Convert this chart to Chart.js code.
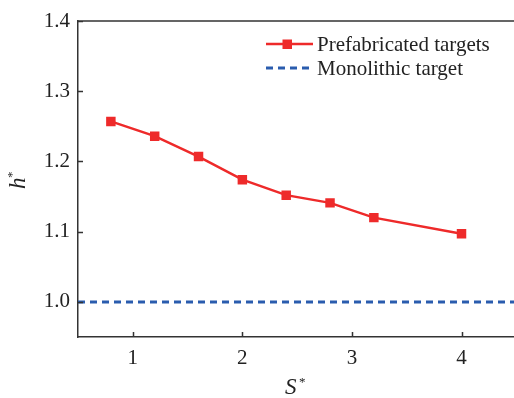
<!DOCTYPE html>
<html>
<head>
<meta charset="utf-8">
<script src="https://cdn.jsdelivr.net/npm/chart.js@4"></script>
<style>
  html, body { margin: 0; padding: 0; background: #fff; overflow: hidden; }
  canvas { display: block; }
</style>
</head>
<body>
<canvas id="chart" width="523" height="398"></canvas>
<script>
// S* values and the normalised h* for the prefabricated targets
const sValues = [0.8, 1.2, 1.6, 2.0, 2.4, 2.8, 3.2, 4.0];
const prefabricated = [1.257, 1.236, 1.207, 1.174, 1.152, 1.141, 1.120, 1.097];
// monolithic target reference level
const monolithicLevel = 1.0;
const monolithicSpan = [0.5, 4.5];

const xTickValues = [1, 2, 3, 4];
const yTickValues = [1.0, 1.1, 1.2, 1.3, 1.4];

const seriesNames = ['Prefabricated targets', 'Monolithic target'];
const red = '#ee2a2a';
const blue = '#2a5cae';
const axisColor = '#333';
const textColor = '#222';
const serif = '"Liberation Serif", "Times New Roman", serif';

// inward tick marks, top border, axis titles and the legend
const decorations = {
  id: 'decorations',
  afterDraw(chart) {
    const ctx = chart.ctx;
    const area = chart.chartArea;
    const x = chart.scales.x;
    const y = chart.scales.y;
    ctx.save();
    ctx.strokeStyle = axisColor;
    ctx.lineWidth = 1.5;
    ctx.beginPath();
    ctx.moveTo(area.left, area.top);
    ctx.lineTo(area.right, area.top);
    xTickValues.forEach(v => {
      const px = Math.round(x.getPixelForValue(v)) + 0.5;
      ctx.moveTo(px, area.bottom);
      ctx.lineTo(px, area.bottom - 5);
    });
    yTickValues.forEach(v => {
      const py = Math.round(y.getPixelForValue(v)) + 0.5;
      ctx.moveTo(area.left, py);
      ctx.lineTo(area.left + 5, py);
    });
    ctx.stroke();

    // axis titles
    ctx.fillStyle = textColor;
    ctx.textBaseline = 'alphabetic';
    ctx.textAlign = 'left';
    ctx.font = 'italic 23px ' + serif;
    ctx.fillText('S', 285, 394);
    ctx.font = '13px ' + serif;
    ctx.fillText('*', 299, 386);

    ctx.save();
    ctx.translate(25, 189);
    ctx.rotate(-Math.PI / 2);
    ctx.font = 'italic 23px ' + serif;
    ctx.fillText('h', 0, 0);
    ctx.font = '13px ' + serif;
    ctx.fillText('*', 11, -9);
    ctx.restore();

    // legend
    ctx.font = '21px ' + serif;
    ctx.textBaseline = 'middle';
    ctx.lineWidth = 2.5;
    ctx.strokeStyle = red;
    ctx.beginPath();
    ctx.moveTo(266, 44);
    ctx.lineTo(313, 44);
    ctx.stroke();
    ctx.fillStyle = red;
    ctx.fillRect(282.5, 39.5, 9.5, 9.5);
    ctx.fillStyle = textColor;
    ctx.fillText(seriesNames[0], 317, 45);

    ctx.strokeStyle = blue;
    ctx.lineWidth = 3;
    ctx.setLineDash([7, 5]);
    ctx.beginPath();
    ctx.moveTo(266, 68);
    ctx.lineTo(310, 68);
    ctx.stroke();
    ctx.setLineDash([]);
    ctx.fillText(seriesNames[1], 317, 69);
    ctx.restore();
  }
};

new Chart(document.getElementById('chart'), {
  type: 'line',
  data: {
    datasets: [
      {
        label: seriesNames[1],
        data: monolithicSpan.map(s => ({ x: s, y: monolithicLevel })),
        borderColor: blue,
        borderWidth: 3,
        borderDash: [7, 5],
        pointRadius: 0,
        fill: false
      },
      {
        label: seriesNames[0],
        data: sValues.map((s, i) => ({ x: s, y: prefabricated[i] })),
        borderColor: red,
        backgroundColor: red,
        borderWidth: 2.5,
        pointStyle: 'rect',
        pointRadius: 6.7,
        pointBorderWidth: 0,
        tension: 0,
        fill: false
      }
    ]
  },
  options: {
    responsive: false,
    animation: false,
    devicePixelRatio: 1,
    layout: { padding: { top: 21, right: 0, bottom: 0, left: 0 } },
    plugins: {
      legend: { display: false },
      tooltip: { enabled: false }
    },
    scales: {
      x: {
        type: 'linear',
        min: 0.5,
        max: 4.5,
        afterBuildTicks: scale => { scale.ticks = xTickValues.map(v => ({ value: v })); },
        afterFit: scale => { scale.height = 61; },
        grid: { display: false, drawTicks: false },
        border: { color: axisColor, width: 1.5 },
        ticks: {
          padding: 9,
          color: textColor,
          font: { family: serif, size: 21 },
          maxRotation: 0,
          callback: v => String(v)
        }
      },
      y: {
        type: 'linear',
        min: 0.95,
        max: 1.4,
        afterBuildTicks: scale => { scale.ticks = yTickValues.map(v => ({ value: v })); },
        afterFit: scale => { scale.width = 78; },
        grid: { display: false, drawTicks: false },
        border: { color: axisColor, width: 1.5 },
        ticks: {
          padding: 8,
          color: textColor,
          font: { family: serif, size: 21 },
          callback: v => v.toFixed(1)
        }
      }
    }
  },
  plugins: [decorations]
});
</script>
</body>
</html>
